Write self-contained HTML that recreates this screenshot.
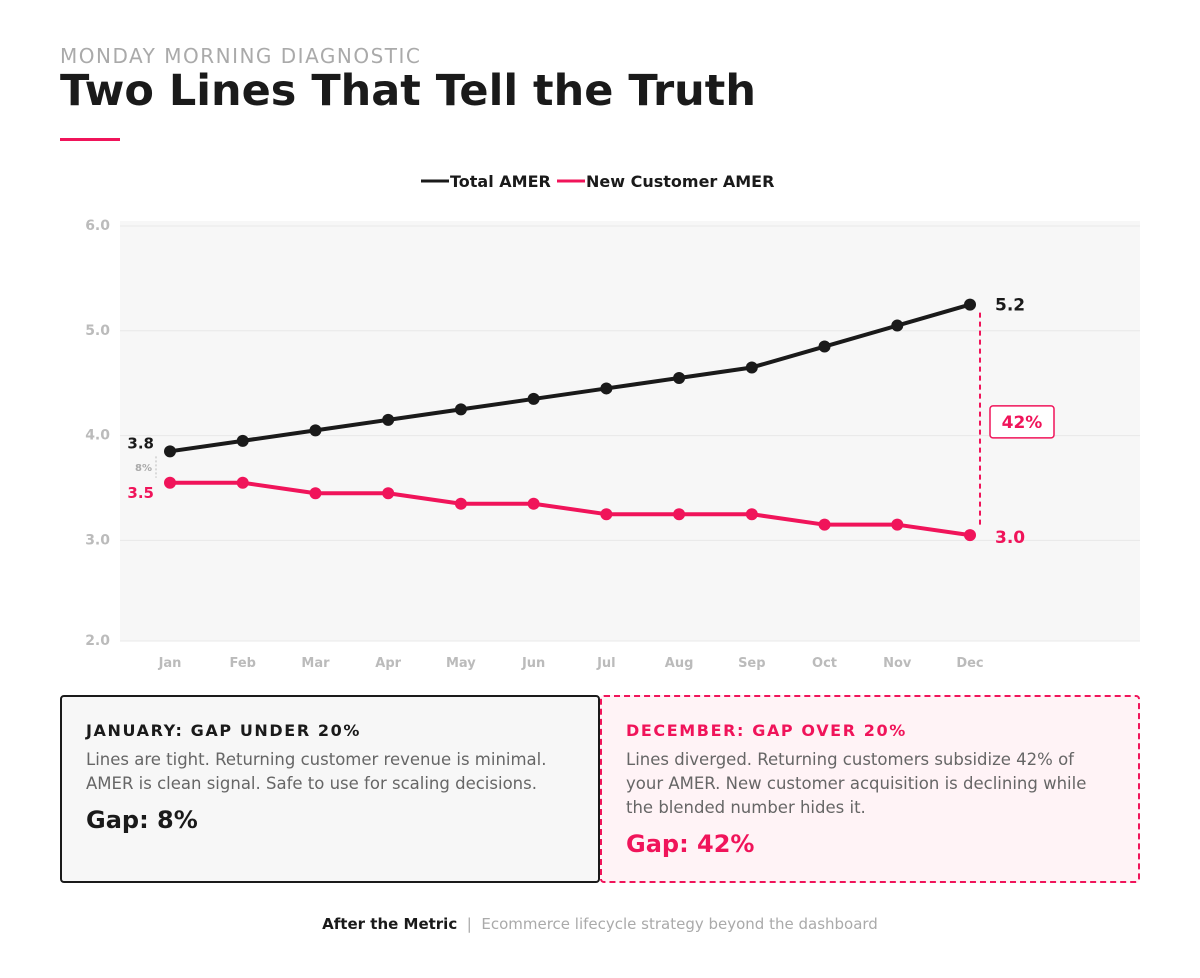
<!DOCTYPE html>
<html><head><meta charset="utf-8">
<style>
body{margin:0;width:1200px;height:978px;background:#fff;font-family:"DejaVu Sans","Liberation Sans",sans-serif;position:relative;overflow:hidden}
.abs{position:absolute}
.card{position:absolute;top:695px;height:188px;box-sizing:border-box;border-radius:4px;padding:24px 24px}
.card h3{margin:0;font-size:16px;letter-spacing:1.6px;font-weight:bold}
.card p{margin:8px 0 0;font-size:16.5px;line-height:24px;color:#666}
.card .gap{font-size:24px;font-weight:bold;margin-top:10px}
</style></head><body>
<div class="abs" style="left:60px;top:44px;font-size:20px;letter-spacing:1.5px;color:#aaa">MONDAY MORNING DIAGNOSTIC</div>
<div class="abs" style="left:60px;top:66px;font-size:43px;font-weight:bold;color:#1a1a1a">Two Lines That Tell the Truth</div>
<div class="abs" style="left:60px;top:138px;width:60px;height:3px;background:#f0145a"></div>
<svg class="abs" style="left:0;top:0" width="1200" height="690">
<g font-size="16" font-weight="bold" fill="#1a1a1a">
<line x1="421" y1="181" x2="449" y2="181" stroke="#1a1a1a" stroke-width="3"/><text x="450" y="187">Total AMER</text>
<line x1="557" y1="181" x2="585" y2="181" stroke="#f0145a" stroke-width="3"/><text x="586" y="187">New Customer AMER</text>
</g>
<rect x="120" y="221" width="1020" height="420" fill="#f7f7f7"/>
<g id="grid"></g><g id="marks"></g>
</svg>
<div class="card" style="left:60px;width:540px;background:#f7f7f7;border:2px solid #1a1a1a">
<h3 style="color:#1a1a1a">JANUARY: GAP UNDER 20%</h3>
<p>Lines are tight. Returning customer revenue is minimal. AMER is clean signal. Safe to use for scaling decisions.</p>
<div class="gap" style="color:#1a1a1a">Gap: 8%</div></div>
<div class="card" style="left:600px;width:540px;background:#fff3f6;border:2px dashed #f0145a">
<h3 style="color:#f0145a">DECEMBER: GAP OVER 20%</h3>
<p>Lines diverged. Returning customers subsidize 42% of your AMER. New customer acquisition is declining while the blended number hides it.</p>
<div class="gap" style="color:#f0145a">Gap: 42%</div></div>
<div class="abs" style="left:0;width:1200px;top:915px;text-align:center;font-size:15px;color:#aaa"><b style="color:#1a1a1a">After the Metric</b> &nbsp;|&nbsp; Ecommerce lifecycle strategy beyond the dashboard</div>
<script>
const months=["Jan","Feb","Mar","Apr","May","Jun","Jul","Aug","Sep","Oct","Nov","Dec"];
const totalAmer=[3.85,3.95,4.05,4.15,4.25,4.35,4.45,4.55,4.65,4.85,5.05,5.25];
const newAmer=[3.55,3.55,3.45,3.45,3.35,3.35,3.25,3.25,3.25,3.15,3.15,3.05];
const yTicks=[2.0,3.0,4.0,5.0,6.0];
const NS="http://www.w3.org/2000/svg";
const x=i=>170+i*(800/11);
const y=v=>226+(6-v)*104.8;
function mk(t,a,p){const e=document.createElementNS(NS,t);for(const k in a)e.setAttribute(k,a[k]);if(p)p.appendChild(e);return e;}
const grid=document.getElementById('grid'),marks=document.getElementById('marks');
yTicks.forEach(v=>{
 const l=mk('line',{x1:120,x2:1140,y1:Math.min(y(v),641),y2:Math.min(y(v),641),stroke:'#e8e8e8','stroke-width':1},grid);
 
 
 const t=mk('text',{x:110,y:Math.min(y(v),641)+4,'text-anchor':'end','font-size':14,'font-weight':'bold',fill:'#bbb'},grid);
 t.textContent=v.toFixed(1);
 
 
});
months.forEach((m,i)=>{
 const t=mk('text',{x:x(i),y:667,'text-anchor':'middle','font-size':13,'font-weight':'bold',fill:'#bbb'},grid);
 t.textContent=m;
 
 
});
function series(vals,color,name){
 const p=mk('polyline',{points:vals.map((v,i)=>x(i)+','+y(v)).join(' '),fill:'none',stroke:color,'stroke-width':4,'stroke-linejoin':'round'},marks);
 
 
 vals.forEach((v,i)=>{
  const c=mk('circle',{cx:x(i),cy:y(v),r:6,fill:color},marks);
  
  
 });
}
series(totalAmer,'#1a1a1a','total-amer');
series(newAmer,'#f0145a','new-customer-amer');
const n=months.length-1;
function txt(s,a,name){const t=mk('text',a,marks);t.textContent=s;return t;}
txt('3.8',{x:154,y:y(totalAmer[0])-3,'text-anchor':'end','font-size':15,'font-weight':'bold',fill:'#1a1a1a'},'jan-total-label');
txt('3.5',{x:154,y:y(newAmer[0])+15,'text-anchor':'end','font-size':15,'font-weight':'bold',fill:'#f0145a'},'jan-new-label');
const jg=mk('line',{x1:156,x2:156,y1:y(totalAmer[0])+5,y2:y(newAmer[0])-5,stroke:'#bbb','stroke-dasharray':'2,2'},marks);


txt('8%',{x:152,y:(y(totalAmer[0])+y(newAmer[0]))/2+4,'text-anchor':'end','font-size':10,'font-weight':'bold',fill:'#aaa'},'jan-gap-label');
txt('5.2',{x:995,y:y(totalAmer[n])+6,'font-size':17,'font-weight':'bold',fill:'#1a1a1a'},'dec-total-label');
txt('3.0',{x:995,y:y(newAmer[n])+8,'font-size':17,'font-weight':'bold',fill:'#f0145a'},'dec-new-label');
const dg=mk('line',{x1:980,x2:980,y1:y(totalAmer[n])+8,y2:y(newAmer[n])-8,stroke:'#f0145a','stroke-width':2,'stroke-dasharray':'5,4'},marks);


const mid=(y(totalAmer[n])+y(newAmer[n]))/2;
const bx=mk('rect',{x:990,y:mid-14,width:64,height:32,rx:3,fill:'#fff',stroke:'#f0145a','stroke-width':1.5},marks);


txt('42%',{x:1022,y:mid+8,'text-anchor':'middle','font-size':17,'font-weight':'bold',fill:'#f0145a'},'dec-gap-label');
</script>
</body></html>
